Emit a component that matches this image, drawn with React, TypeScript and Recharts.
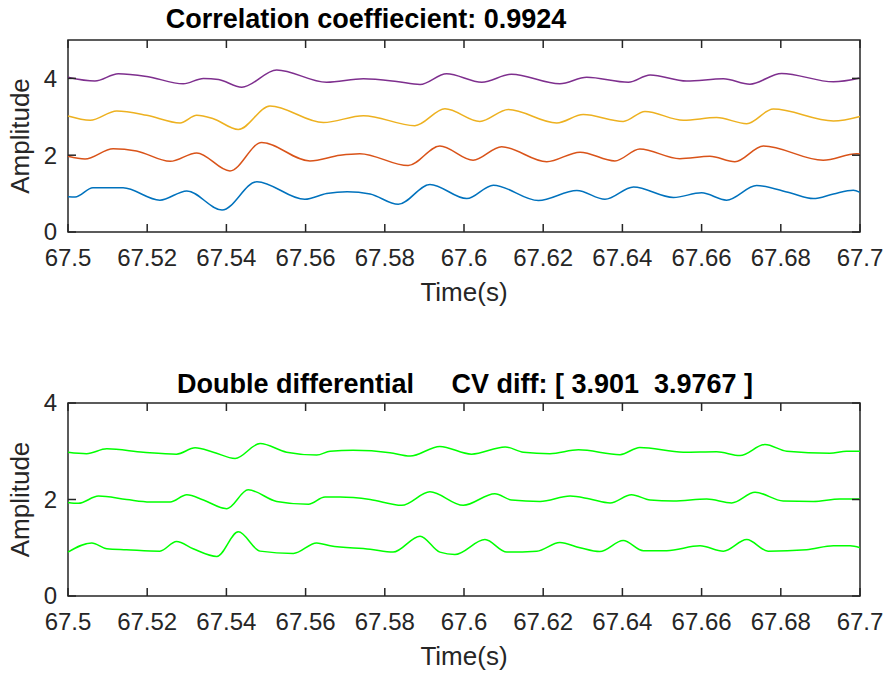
import { LineChart, Line, XAxis, YAxis, ReferenceArea } from 'recharts';

const X_TICKS = [67.5, 67.52, 67.54, 67.56, 67.58, 67.6, 67.62, 67.64, 67.66, 67.68, 67.7];
const Y_TICKS = [0, 2, 4];

// [time (s), amplitude]
const blue: [number, number][] = [
  [67.5, 0.92], [67.5018, 0.91], [67.5063, 1.15], [67.5139, 1.15], [67.5232, 0.83], [67.53, 1.07],
  [67.5389, 0.57], [67.5477, 1.31], [67.5598, 0.85], [67.5653, 1.0], [67.5705, 1.05], [67.5763, 0.99],
  [67.5834, 0.72], [67.5914, 1.24], [67.6007, 0.87], [67.6074, 1.22], [67.6188, 0.82], [67.6285, 1.08],
  [67.6356, 0.85], [67.6428, 1.17], [67.6529, 0.9], [67.66, 1.02], [67.6663, 0.83], [67.6739, 1.21],
  [67.6823, 1.02], [67.6882, 0.87], [67.6933, 0.99], [67.6983, 1.09], [67.7, 1.03],
];
const orange: [number, number][] = [
  [67.5, 1.97], [67.5043, 1.9], [67.5114, 2.17], [67.5173, 2.11], [67.5258, 1.84], [67.5325, 2.06],
  [67.5409, 1.59], [67.5489, 2.33], [67.5611, 1.85], [67.5687, 2.0], [67.5737, 2.04], [67.5859, 1.73],
  [67.5939, 2.24], [67.6023, 1.87], [67.6095, 2.22], [67.6209, 1.83], [67.6293, 2.08], [67.6381, 1.85],
  [67.6444, 2.16], [67.6545, 1.91], [67.6621, 1.97], [67.6684, 1.83], [67.6756, 2.24], [67.6907, 1.87],
  [67.6992, 2.04], [67.7, 2.03],
];
const yellow: [number, number][] = [
  [67.5, 3.02], [67.5056, 2.91], [67.5123, 3.15], [67.5199, 3.04], [67.5283, 2.84], [67.5325, 3.04],
  [67.5367, 2.95], [67.543, 2.67], [67.551, 3.28], [67.5645, 2.85], [67.5746, 3.03], [67.5876, 2.77],
  [67.5952, 3.21], [67.604, 2.88], [67.6112, 3.19], [67.6234, 2.84], [67.6301, 3.06], [67.6402, 2.88],
  [67.6457, 3.14], [67.6554, 2.91], [67.6638, 2.98], [67.6714, 2.82], [67.6781, 3.2], [67.6933, 2.89],
  [67.7, 3.01],
];
const purple: [number, number][] = [
  [67.5, 4.03], [67.5068, 3.93], [67.5127, 4.12], [67.5199, 4.05], [67.5291, 3.86], [67.5342, 4.0],
  [67.538, 3.97], [67.5439, 3.77], [67.5527, 4.22], [67.5653, 3.9], [67.5746, 3.99], [67.583, 3.92],
  [67.5889, 3.84], [67.5956, 4.12], [67.6045, 3.9], [67.612, 4.11], [67.6242, 3.86], [67.631, 4.03],
  [67.6415, 3.9], [67.647, 4.09], [67.6562, 3.93], [67.6655, 3.99], [67.6722, 3.85], [67.6802, 4.13],
  [67.6933, 3.91], [67.7, 4.01],
];

// bottom panel, double differential
const green3: [number, number][] = [
  [67.5, 2.98], [67.5047, 2.95], [67.5098, 3.05], [67.519, 2.98], [67.5274, 2.94], [67.5321, 3.07],
  [67.5367, 2.98], [67.5422, 2.85], [67.5485, 3.16], [67.5552, 2.98], [67.5628, 2.92], [67.5662, 3.0],
  [67.572, 3.02], [67.5813, 2.97], [67.5864, 2.9], [67.5939, 3.1], [67.6019, 2.94], [67.6104, 3.09],
  [67.615, 2.98], [67.6217, 2.95], [67.6289, 3.03], [67.6394, 2.93], [67.6444, 3.08], [67.6554, 2.98],
  [67.6638, 2.99], [67.6697, 2.91], [67.676, 3.14], [67.6815, 3.0], [67.6924, 2.96], [67.6966, 3.0],
  [67.7, 3.0],
];
const green2: [number, number][] = [
  [67.5, 1.94], [67.5026, 1.92], [67.5077, 2.07], [67.5148, 2.0], [67.5207, 1.95], [67.5258, 1.95],
  [67.53, 2.1], [67.5342, 1.99], [67.5401, 1.81], [67.5455, 2.2], [67.5527, 1.96], [67.5607, 1.9],
  [67.5649, 2.05], [67.5687, 2.05], [67.5763, 2.0], [67.5843, 1.88], [67.5914, 2.16], [67.5998, 1.88],
  [67.6078, 2.12], [67.612, 1.99], [67.6192, 1.96], [67.6268, 2.07], [67.6318, 2.01], [67.6369, 1.93],
  [67.6423, 2.1], [67.647, 1.99], [67.6529, 1.97], [67.6613, 2.01], [67.6676, 1.93], [67.6735, 2.15],
  [67.6806, 1.97], [67.6882, 1.96], [67.6949, 2.01], [67.7, 2.01],
];
const green1: [number, number][] = [
  [67.5, 0.91], [67.506, 1.1], [67.5098, 0.98], [67.5148, 0.96], [67.5232, 0.93], [67.5274, 1.13],
  [67.5316, 0.98], [67.5376, 0.82], [67.543, 1.33], [67.5485, 0.93], [67.5569, 0.88], [67.5628, 1.1],
  [67.5662, 1.04], [67.5763, 0.97], [67.5821, 0.91], [67.5889, 1.24], [67.5939, 0.91], [67.5977, 0.86],
  [67.6053, 1.17], [67.6108, 0.91], [67.6184, 0.93], [67.6242, 1.11], [67.6293, 1.0], [67.6343, 0.92],
  [67.6402, 1.15], [67.6453, 0.94], [67.6512, 0.94], [67.6596, 1.04], [67.6655, 0.93], [67.6714, 1.17],
  [67.6768, 0.93], [67.6865, 0.96], [67.6933, 1.04], [67.6975, 1.04], [67.7, 1.0],
];

const AXIS = '#262626';
const FONT = '"Liberation Sans", Arial, sans-serif';
const PLOT_W = 792;

const rows = (pts: [number, number][]) => pts.map(([t, v]) => ({ t, v }));
const fmt = (v: number) => String(Number(v.toFixed(2)));

const makeXTick = (plotH: number) => (props: any) => {
  const { x, y, payload } = props;
  return (
    <g>
      <line x1={x} x2={x} y1={y} y2={y - 8} stroke={AXIS} strokeWidth={1.5} />
      <line x1={x} x2={x} y1={y - plotH} y2={y - plotH + 8} stroke={AXIS} strokeWidth={1.5} />
      <text x={x} y={y + 34} textAnchor="middle" fontSize={24} fontFamily={FONT} fill={AXIS}>
        {fmt(payload.value)}
      </text>
    </g>
  );
};

const YTick = (props: any) => {
  const { x, y, payload } = props;
  return (
    <g>
      <line x1={x} x2={x + 8} y1={y} y2={y} stroke={AXIS} strokeWidth={1.5} />
      <line x1={x + PLOT_W} x2={x + PLOT_W - 8} y1={y} y2={y} stroke={AXIS} strokeWidth={1.5} />
      <text x={x - 11} y={y} dy="0.35em" textAnchor="end" fontSize={24} fontFamily={FONT} fill={AXIS}>
        {payload.value}
      </text>
    </g>
  );
};

const YLabel = (props: any) => {
  const { y, height } = props.viewBox;
  const cy = y + height / 2;
  return (
    <text x={29} y={cy} transform={`rotate(-90, 29, ${cy})`} textAnchor="middle"
      fontSize={26} fontFamily={FONT} fill={AXIS}>Amplitude</text>
  );
};

const XLabel = (props: any) => {
  const { x, y, width } = props.viewBox;
  return (
    <text x={x + width / 2} y={y + 69} textAnchor="middle" fontSize={26} fontFamily={FONT} fill={AXIS}>
      Time(s)
    </text>
  );
};

const titleStyle = (top: number, center: number): React.CSSProperties => ({
  position: 'absolute', top, left: center - 350, width: 700, textAlign: 'center',
  fontFamily: FONT, fontWeight: 'bold', fontSize: 27, lineHeight: '27px', whiteSpace: 'pre', color: '#000',
});

function Panel({ height, top, plotH, xHeight, yMax, series }: {
  height: number; top: number; plotH: number; xHeight: number; yMax: number;
  series: { pts: [number, number][]; color: string }[];
}) {
  return (
    <div style={{ position: 'absolute', left: 0, top }}>
      <LineChart width={887} height={height} margin={{ top: height - xHeight - plotH, right: 27, bottom: 0, left: 0 }}>
        <XAxis dataKey="t" type="number" domain={[67.5, 67.7]} ticks={X_TICKS} height={xHeight}
          axisLine={false} tickLine={false} tickSize={0} tickMargin={0} tick={makeXTick(plotH)}
          interval={0} label={<XLabel />} />
        <YAxis type="number" domain={[0, yMax]} ticks={Y_TICKS} width={68} axisLine={false}
          tickLine={false} tickSize={0} tickMargin={0} tick={<YTick />} interval={0} label={<YLabel />} />
        <ReferenceArea x1={67.5} x2={67.7} y1={0} y2={yMax} fill="none" stroke={AXIS} strokeWidth={1.5} />
        {series.map((s, i) => (
          <Line key={i} data={rows(s.pts)} dataKey="v" type="monotone" stroke={s.color}
            strokeWidth={1.5} dot={false} isAnimationActive={false} />
        ))}
      </LineChart>
    </div>
  );
}

export default function App() {
  return (
    <div style={{ position: 'absolute', left: 0, top: 0, width: 887, height: 674, background: '#fff' }}>
      <Panel height={320} top={0} plotH={192} xHeight={88} yMax={5}
        series={[
          { pts: blue, color: '#0072BD' },
          { pts: orange, color: '#D95319' },
          { pts: yellow, color: '#EDB120' },
          { pts: purple, color: '#7E2F8E' },
        ]} />
      <Panel height={314} top={360} plotH={193} xHeight={78} yMax={4}
        series={[
          { pts: green1, color: '#00FF00' },
          { pts: green2, color: '#00FF00' },
          { pts: green3, color: '#00FF00' },
        ]} />
      <div style={titleStyle(6, 366)}>Correlation coeffiecient: 0.9924</div>
      <div style={titleStyle(371, 465)}>Double differential     CV diff: [ 3.901  3.9767 ]</div>
    </div>
  );
}
